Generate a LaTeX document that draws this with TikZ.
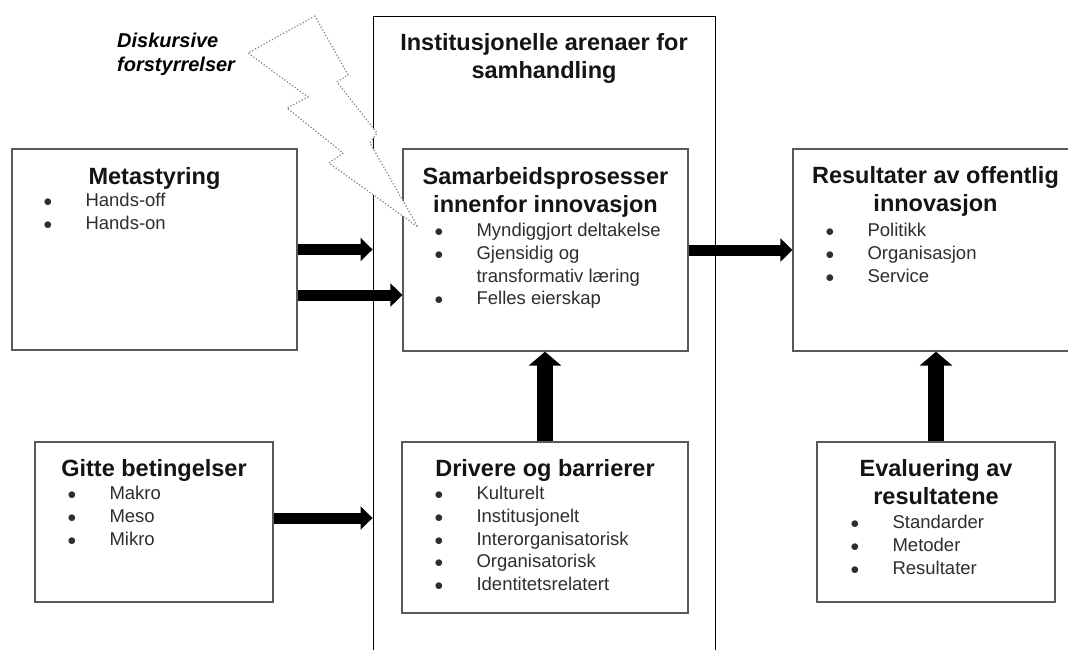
\documentclass[tikz,border=0pt]{standalone}
\usepackage{fontspec}
\setmainfont{Liberation Sans}
\usetikzlibrary{positioning,arrows.meta}
\newcommand{\titlesize}{\fontsize{23.5}{28}\selectfont\bfseries}
\newcommand{\itemsize}{\fontsize{18.5}{22.8}\selectfont}
\newcommand{\bul}[1]{\makebox[42pt][l]{$\bullet$}#1}
\tikzset{
    box/.style={draw=black!65, line width=1.3pt, fill=white, inner sep=0pt},
    boxtitle/.style={font=\titlesize, align=center, inner sep=0pt, text=black!92},
    boxlist/.style={font=\itemsize, align=left, inner sep=0pt, text=black!82},
    flow/.style={line width=11pt, -{Triangle[length=12pt,width=23pt]}},
    upflow/.style={line width=16pt, -{Triangle[length=14pt,width=32pt]}},
    bolt/.style={draw=black!50, line width=1.2pt, dash pattern=on 1.2pt off 2pt, fill=white}
}

\begin{document}
\begin{tikzpicture}[x=1pt, y=-1pt]
        \useasboundingbox (0,0) rectangle (1068,650);
        \clip (0,0) rectangle (1068,650);
        % arena in the middle
        \node[box, draw=black, line width=0.9pt, minimum width=342pt, minimum height=684pt] (arena) at (544,358) {};
        \node[boxtitle, below=15pt of arena.north] (arenaT) {\strut Institusjonelle arenaer for\\samhandling};
        % left column
        \node[box, minimum width=285pt, minimum height=201pt] (meta) at (154.5,249.5) {};
        \node[boxtitle, below=16pt of meta.north] (metaT) {\strut Metastyring};
        \node[boxlist, below right=42pt and 32pt of meta.north west] (metaL) {\strut\bul{Hands-off}\\\bul{Hands-on}};
        \node[box, minimum width=238pt, minimum height=160pt] (gitte) at (154,522) {};
        \node[boxtitle, below=15.4pt of gitte.north] (gitteT) {\strut Gitte betingelser};
        \node[boxlist, below right=42pt and 33pt of gitte.north west] (gitteL) {\strut\bul{Makro}\\\bul{Meso}\\\bul{Mikro}};
        % middle column
        \node[box, minimum width=285pt, minimum height=202pt] (samarb) at (545.5,250) {};
        \node[boxtitle, below=16pt of samarb.north] (samarbT) {\strut Samarbeidsprosesser\\innenfor innovasjon};
        \node[boxlist, below right=72pt and 32pt of samarb.north west] (samarbL) {\strut\bul{Myndiggjort deltakelse}\\\bul{Gjensidig og}\\\hspace*{42pt}transformativ læring\\\bul{Felles eierskap}};
        \node[box, minimum width=286pt, minimum height=171pt] (driv) at (545,527.5) {};
        \node[boxtitle, below=15.4pt of driv.north] (drivT) {\strut Drivere og barrierer};
        \node[boxlist, below right=42pt and 33pt of driv.north west] (drivL) {\strut\bul{Kulturelt}\\\bul{Institusjonelt}\\\bul{Interorganisatorisk}\\\bul{Organisatorisk}\\\bul{Identitetsrelatert}};
        % right column
        \node[box, minimum width=285pt, minimum height=202pt] (result) at (935.5,250) {};
        \node[boxtitle, below=15.4pt of result.north] (resultT) {\strut Resultater av offentlig\\innovasjon};
        \node[boxlist, below right=72pt and 33pt of result.north west] (resultL) {\strut\bul{Politikk}\\\bul{Organisasjon}\\\bul{Service}};
        \node[box, minimum width=238pt, minimum height=160pt] (eval) at (936,522) {};
        \node[boxtitle, below=15.4pt of eval.north] (evalT) {\strut Evaluering av\\resultatene};
        \node[boxlist, below right=71pt and 34pt of eval.north west] (evalL) {\strut\bul{Standarder}\\\bul{Metoder}\\\bul{Resultater}};
        % arrows
        \coordinate (m2) at ([yshift=-45.5pt]meta.east);
        \coordinate (g1) at ([yshift=4pt]gitte.east);
        \draw[flow] (meta.east) -- (meta.east -| arena.west);
        \draw[flow] (m2) -- (m2 -| samarb.west);
        \draw[flow] (g1) -- (g1 -| arena.west);
        \draw[flow] (samarb.east) -- (samarb.east -| result.west);
        \draw[upflow] (driv.north) -- (driv.north |- samarb.south);
        \draw[upflow] (eval.north) -- (eval.north |- result.south);
        % lightning bolt with its label
        \node[anchor=north west, inner sep=0pt, align=left, font=\fontsize{20}{24}\selectfont\bfseries\itshape] (disk) at (117,31) {\strut Diskursive\\forstyrrelser};
        \draw[bolt] (315,16) -- (248,53) -- (308,97) -- (287,108) -- (343,153) -- (329,163) -- (418,227)
            -- (370,143) -- (377,133) -- (337,82) -- (348,75) -- cycle;
\end{tikzpicture}
\end{document}
